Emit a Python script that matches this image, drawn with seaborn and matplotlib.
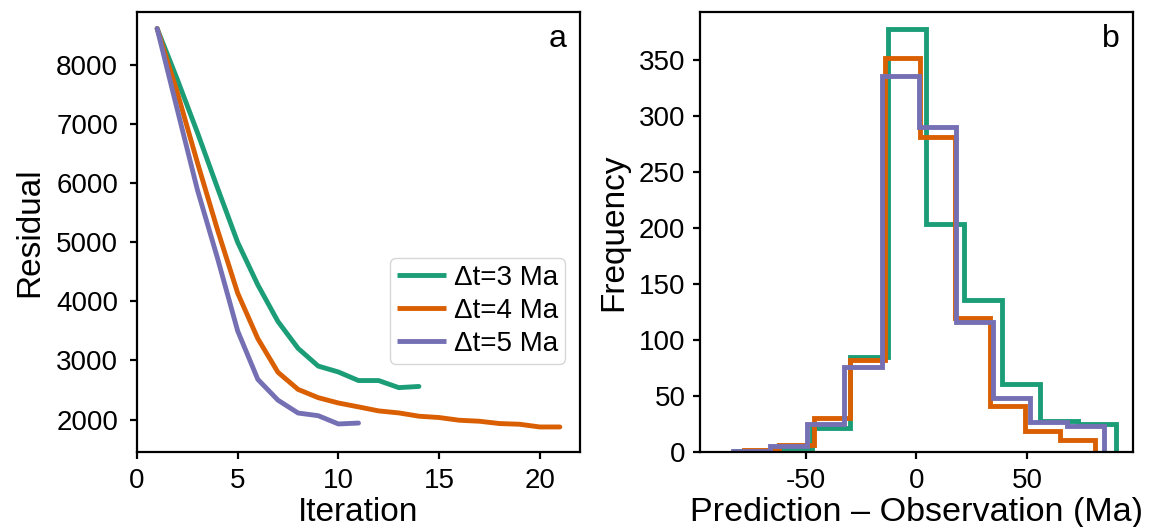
import numpy as np
import pandas as pd
import matplotlib
matplotlib.use("Agg")
import matplotlib.pyplot as plt
import seaborn as sns

# Residual per inversion iteration for three time steps
iter_3ma = list(range(1, 15))
resid_3ma = [8620, 7760, 6860, 5920, 5000, 4280, 3660, 3205, 2905, 2805,
             2660, 2660, 2540, 2560]
iter_4ma = list(range(1, 22))
resid_4ma = [8620, 7540, 6350, 5210, 4140, 3370, 2800, 2510, 2370, 2280,
             2214, 2146, 2112, 2056, 2034, 1988, 1971, 1932, 1920, 1874, 1874]
iter_5ma = list(range(1, 12))
resid_5ma = [8620, 7250, 5890, 4730, 3500, 2680, 2328, 2110, 2065, 1925, 1940]

# Histogram of prediction - observation misfit (10 bins each)
range_3ma = (-82.0, 90.5)
counts_3ma = [1, 4, 21, 85, 378, 204, 136, 61, 28, 25]
range_4ma = (-78.0, 81.0)
counts_4ma = [2, 6, 30, 82, 352, 281, 120, 41, 19, 11]
range_5ma = (-83.0, 85.0)
counts_5ma = [1, 5, 25, 76, 336, 290, 116, 48, 27, 23]

labels = ["Δt=3 Ma", "Δt=4 Ma", "Δt=5 Ma"]
colors = ["#1b9e77", "#d95f02", "#7570b3"]

sns.set_theme(style="ticks")
plt.rcParams["font.family"] = ["Liberation Sans", "DejaVu Sans"]
plt.rcParams["axes.unicode_minus"] = False
plt.rcParams["axes.linewidth"] = 1.6
plt.rcParams["xtick.major.width"] = 1.6
plt.rcParams["ytick.major.width"] = 1.6
plt.rcParams["xtick.major.size"] = 5
plt.rcParams["ytick.major.size"] = 5
plt.rcParams["axes.edgecolor"] = "black"
plt.rcParams["text.color"] = "black"
plt.rcParams["axes.labelcolor"] = "black"
plt.rcParams["xtick.color"] = "black"
plt.rcParams["ytick.color"] = "black"
plt.rcParams["xtick.labelcolor"] = "black"
plt.rcParams["ytick.labelcolor"] = "black"

fig = plt.figure(figsize=(11.6, 5.27), dpi=100)
ax1 = fig.add_axes([0.1181, 0.1423, 0.3819, 0.8349])
ax2 = fig.add_axes([0.6034, 0.1423, 0.3733, 0.8349])

# Panel a: convergence curves
lines = pd.concat([
    pd.DataFrame({"Iteration": iter_3ma, "Residual": resid_3ma, "run": labels[0]}),
    pd.DataFrame({"Iteration": iter_4ma, "Residual": resid_4ma, "run": labels[1]}),
    pd.DataFrame({"Iteration": iter_5ma, "Residual": resid_5ma, "run": labels[2]}),
], ignore_index=True)
sns.lineplot(data=lines, x="Iteration", y="Residual", hue="run",
             palette=colors, hue_order=labels, linewidth=3.5, ax=ax1)
ax1.set_xlim(0, 22)
ax1.set_ylim(1450, 8900)
ax1.set_xticks([0, 5, 10, 15, 20])
ax1.set_yticks(range(2000, 8001, 1000))
ax1.set_xlabel("Iteration", fontsize=24, labelpad=2)
ax1.set_ylabel("Residual", fontsize=24, labelpad=8)
ax1.tick_params(axis="x", labelsize=20, pad=6.5)
ax1.tick_params(axis="y", labelsize=20, pad=8.5)
leg = ax1.legend(loc="lower right", bbox_to_anchor=(0.966, 0.2), fontsize=20,
                 borderaxespad=0, handlelength=1.75, borderpad=0.25,
                 labelspacing=0.25, handletextpad=0.3)
for h in leg.get_lines():
    h.set_linewidth(3.5)
    h.set_solid_capstyle("butt")
ax1.text(0.97, 0.92, "a", transform=ax1.transAxes, ha="right",
         va="baseline", fontsize=23)

# Panel b: misfit histograms as step outlines
for rng, cnt, lab, col in zip([range_3ma, range_4ma, range_5ma],
                              [counts_3ma, counts_4ma, counts_5ma],
                              labels, colors):
    edges = np.linspace(rng[0], rng[1], len(cnt) + 1)
    centers = 0.5 * (edges[:-1] + edges[1:])
    ax2.hist(centers, bins=edges, weights=cnt, histtype="step",
             color=col, linewidth=3.5, label=lab)
ax2.set_xlim(-98, 98)
ax2.set_ylim(0, 393)
ax2.set_xticks([-50, 0, 50])
ax2.set_yticks(range(0, 351, 50))
ax2.set_xlabel("Prediction – Observation (Ma)", fontsize=24.6, labelpad=2)
ax2.set_ylabel("Frequency", fontsize=24, labelpad=7)
ax2.tick_params(axis="x", labelsize=20, pad=6.5)
ax2.tick_params(axis="y", labelsize=20, pad=5.5)
ax2.text(0.97, 0.92, "b", transform=ax2.transAxes, ha="right",
         va="baseline", fontsize=23)

fig.savefig("out.png", dpi=100)
